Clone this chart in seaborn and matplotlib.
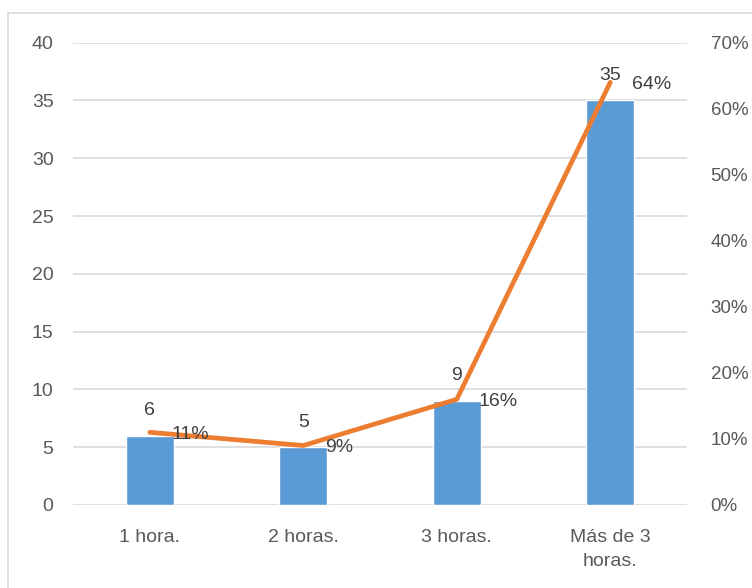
import matplotlib.pyplot as plt
import matplotlib.patches as mpatches
import seaborn as sns

# === Data ===
categories = ["1 hora.", "2 horas.", "3 horas.", "Más de 3\nhoras."]
counts = [6, 5, 9, 35]
pct = [11, 9, 16, 64]
pct_labels = ["11%", "9%", "16%", "64%"]

bar_color = "#5B9BD5"
line_color = "#ED7D31"
text_color = "#595959"
grid_color = "#D9D9D9"

sns.set_style("white")
plt.rcParams["font.family"] = ["Liberation Sans", "DejaVu Sans"]

fig = plt.figure(figsize=(7.52, 5.88), dpi=100)
ax = fig.add_axes([0.0971, 0.1412, 0.8165, 0.7862])

# === Bars (counts) ===
sns.barplot(x=categories, y=counts, color=bar_color, width=0.31,
            saturation=1, ax=ax, zorder=2)
ax.set_ylim(0, 40)
ax.set_yticks(range(0, 41, 5))
ax.set_xlim(-0.5, 3.5)
ax.yaxis.grid(True, color=grid_color, linewidth=1.2, zorder=0)
ax.set_axisbelow(True)
for s in ax.spines.values():
    s.set_visible(False)
ax.tick_params(axis="both", length=0, labelsize=14, colors=text_color)
ax.tick_params(axis="x", pad=17)
ax.tick_params(axis="y", pad=14)
ax.set_xlabel("")
ax.set_ylabel("")
for t in ax.get_xticklabels():
    t.set_linespacing(1.55)

for i, c in enumerate(counts):
    ax.annotate(str(c), (i, c), xytext=(0, 18), textcoords="offset points",
                ha="center", va="center", fontsize=14, color="#404040")

# === Line (percentages) ===
ax2 = ax.twinx()
sns.lineplot(x=categories, y=pct, sort=False, color=line_color,
             linewidth=3.4, ax=ax2, zorder=3)
ax2.set_ylim(0, 70)
ax2.set_yticks(range(0, 71, 10))
ax2.set_yticklabels([f"{v}%" for v in range(0, 71, 10)])
for s in ax2.spines.values():
    s.set_visible(False)
ax2.tick_params(axis="y", length=0, labelsize=13.5, colors=text_color, pad=17)
ax2.set_ylabel("")

for i, (p, lab) in enumerate(zip(pct, pct_labels)):
    ax2.annotate(lab, (i, p), xytext=(16, -1.5), textcoords="offset points",
                 ha="left", va="center", fontsize=14, color="#404040")

# chart border
fig.patches.append(mpatches.Rectangle((8 / 752, -0.05), 1.0, 1.05 - 13 / 588,
                                      transform=fig.transFigure, fill=False,
                                      edgecolor=grid_color, linewidth=1.2))

plt.savefig("out.png", dpi=100)
